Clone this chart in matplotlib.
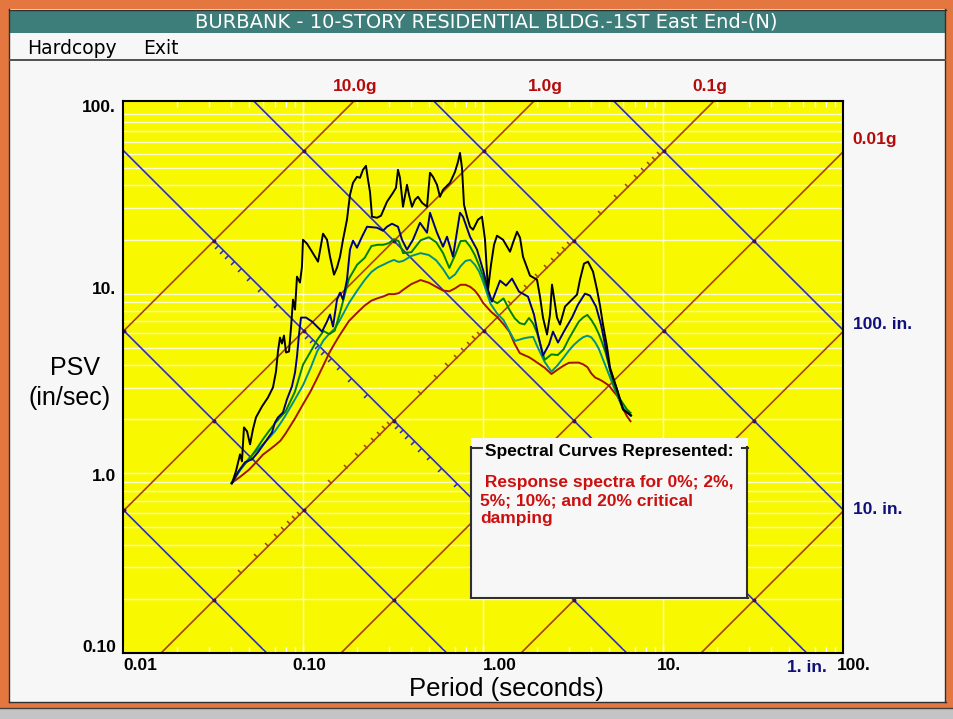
import numpy as np
import matplotlib
matplotlib.use("Agg")
import matplotlib.pyplot as plt
from matplotlib.patches import Rectangle
from matplotlib.lines import Line2D
from matplotlib.path import Path

# ---------------------------------------------------------------- data
G_IN = 386.1  # gravity, in/s^2

# 5%, 10% and 20% damping share one period grid (seconds)
period = [0.04, 0.045, 0.05, 0.055, 0.06, 0.065, 0.07, 0.075, 0.08, 0.09,
          0.10, 0.11, 0.12, 0.13, 0.14, 0.15, 0.16, 0.18, 0.20, 0.22,
          0.24, 0.26, 0.28, 0.30, 0.32, 0.34, 0.36, 0.40, 0.45, 0.50,
          0.55, 0.60, 0.65, 0.70, 0.75, 0.80, 0.85, 0.90, 0.95, 1.0,
          1.1, 1.2, 1.3, 1.4, 1.5, 1.6, 1.7, 1.8, 1.9, 2.0,
          2.2, 2.4, 2.6, 2.8, 3.0, 3.2, 3.4, 3.6, 3.8, 4.0,
          4.2, 4.4, 4.6, 4.8, 5.0, 5.3, 5.6, 6.0, 6.3, 6.6]

psv_20 = [0.88, 0.96, 1.045, 1.154, 1.272, 1.351, 1.432, 1.52, 1.664, 2.01,
          2.42, 2.85, 3.39, 4.00, 4.68, 5.28, 5.88, 7.04, 7.83, 8.58,
          9.14, 9.43, 9.65, 9.94, 9.93, 10.05, 10.5, 11.3, 11.9, 11.5,
          10.9, 10.4, 10.3, 10.7, 11.2, 11.2, 10.9, 10.4, 9.7, 8.89,
          7.99, 7.40, 6.76, 6.15, 5.25, 4.67, 4.54, 4.43, 4.28, 4.13,
          3.87, 3.57, 3.78, 3.97, 4.12, 4.13, 4.13, 4.04, 3.90, 3.59,
          3.41, 3.34, 3.26, 3.17, 3.08, 2.86, 2.68, 2.29, 2.08, 1.95]

psv_10 = [0.88, 1.047, 1.21, 1.33, 1.45, 1.58, 1.72, 1.90, 2.10, 2.57,
          3.09, 3.84, 4.78, 5.50, 5.98, 6.38, 7.10, 8.86, 10.4, 11.9,
          13.2, 14.0, 14.5, 15.0, 15.4, 15.0, 15.2, 16.2, 16.8, 16.4,
          15.3, 13.7, 12.1, 12.8, 14.2, 15.2, 15.4, 14.5, 13.3, 11.7,
          8.8, 7.73, 7.13, 6.19, 5.45, 5.55, 5.65, 5.71, 5.74, 5.10,
          4.17, 3.68, 4.00, 4.40, 4.82, 5.19, 5.48, 5.72, 5.83, 5.71,
          5.36, 4.93, 4.40, 3.95, 3.56, 3.06, 2.67, 2.32, 2.18, 2.09]

psv_5 = [0.88, 1.06, 1.19, 1.36, 1.55, 1.73, 1.90, 2.06, 2.21, 2.83,
         4.02, 4.74, 5.53, 6.19, 5.95, 6.22, 7.74, 12.1, 14.5, 15.8,
         18.4, 18.7, 18.7, 19.1, 20.1, 19.6, 16.8, 17.0, 19.8, 20.6,
         19.3, 16.8, 13.9, 16.4, 19.6, 19.7, 18.2, 16.4, 14.4, 12.5,
         9.30, 8.84, 9.4, 8.16, 7.29, 6.85, 6.74, 7.32, 6.81, 6.03,
         4.28, 4.59, 4.55, 4.89, 5.61, 6.28, 6.97, 7.37, 7.61, 7.13,
         6.58, 5.96, 5.31, 4.69, 4.01, 3.16, 2.71, 2.44, 2.27, 2.17]

# 2% damping
period_2 = [0.0403, 0.0435, 0.0476, 0.0521, 0.0562, 0.0615, 0.0673, 0.0699, 0.0726, 0.0774,
            0.0814, 0.0868, 0.0903, 0.0926, 0.0950, 0.0975, 0.1039, 0.1122, 0.1212, 0.1276,
            0.1359, 0.1413, 0.1468, 0.1545, 0.1606, 0.1668, 0.1755, 0.1824, 0.1896, 0.1995,
            0.2127, 0.2268, 0.2577, 0.2783, 0.2928, 0.3122, 0.3371, 0.3548, 0.3782, 0.4084,
            0.4467, 0.4885, 0.5076, 0.5551, 0.5995, 0.6310, 0.6813, 0.7451, 0.7743, 0.8468,
            0.9261, 1.0, 1.066, 1.122, 1.243, 1.343, 1.449, 1.585, 1.778, 1.920,
            2.021, 2.154, 2.327, 2.448, 2.610, 2.855, 3.122, 3.371, 3.687, 3.930,
            4.244, 4.524, 4.762, 5.076, 5.551, 5.995, 6.641]
psv_2 = [0.880, 1.013, 1.152, 1.196, 1.309, 1.487, 1.690, 1.920, 2.047, 2.182,
         2.577, 3.043, 3.640, 4.467, 5.920, 7.357, 7.357, 6.990, 6.474, 6.146,
         6.990, 7.645, 6.557, 9.261, 10.13, 9.261, 11.96, 17.56, 19.70, 18.01,
         20.73, 23.56, 23.27, 22.38, 23.56, 24.48, 23.56, 19.95, 17.56, 19.95,
         24.80, 21.82, 28.19, 21.82, 18.24, 20.73, 16.06, 28.19, 26.78, 20.73,
         17.56, 13.59, 10.53, 9.027, 11.81, 11.08, 12.12, 10.26, 9.623, 7.645,
         5.920, 4.524, 5.209, 6.146, 5.343, 6.310, 7.357, 8.689, 10.0, 9.745,
         8.468, 6.727, 5.209, 3.783, 2.929, 2.268, 2.100]

# 0% damping
period_0 = [0.0403, 0.0424, 0.0447, 0.0458, 0.0470, 0.0489, 0.0508, 0.0527, 0.0548, 0.0592,
            0.0639, 0.0681, 0.0708, 0.0726, 0.0745, 0.0764, 0.0784, 0.0805, 0.0836, 0.0858,
            0.0880, 0.0903, 0.0926, 0.0962, 0.0987, 0.1000, 0.1052, 0.1122, 0.1212, 0.1292,
            0.1360, 0.1413, 0.1487, 0.1545, 0.1606, 0.1668, 0.1755, 0.1824, 0.1896, 0.1995,
            0.2073, 0.2154, 0.2238, 0.2297, 0.2356, 0.2418, 0.2577, 0.2712, 0.2928, 0.3162,
            0.3286, 0.3371, 0.3458, 0.3594, 0.3782, 0.3880, 0.4032, 0.4190, 0.4354, 0.4583,
            0.4885, 0.5076, 0.5275, 0.5551, 0.5769, 0.5995, 0.6556, 0.6990, 0.7263, 0.7451,
            0.7644, 0.7843, 0.8149, 0.8468, 0.8799, 0.9380, 0.9873, 1.026, 1.066, 1.108,
            1.152, 1.196, 1.292, 1.413, 1.468, 1.545, 1.606, 1.668, 1.824, 1.995,
            2.073, 2.154, 2.268, 2.356, 2.418, 2.480, 2.577, 2.678, 2.855, 3.043,
            3.329, 3.458, 3.640, 3.831, 4.084, 4.299, 4.467, 4.642, 4.885, 5.076,
            5.551, 5.995, 6.641]
psv_0 = [0.880, 1.026, 1.275, 1.166, 1.801, 1.711, 1.449, 1.755, 2.047, 2.356,
         2.643, 3.004, 3.687, 4.762, 5.696, 5.275, 5.841, 4.702, 4.762, 6.474,
         9.261, 8.150, 12.43, 11.52, 14.13, 19.95, 18.97, 17.11, 15.06, 21.54,
         19.95, 16.06, 12.75, 13.95, 16.06, 19.95, 25.78, 35.48, 41.37, 44.67,
         44.10, 48.86, 51.41, 42.99, 36.81, 26.78, 26.44, 27.13, 32.45, 36.40,
         38.80, 48.86, 44.10, 30.43, 40.33, 35.48, 30.43, 33.29, 34.58, 32.04,
         30.43, 47.04, 44.67, 40.33, 34.58, 37.83, 41.37, 47.62, 54.12, 60.72,
         50.12, 31.23, 26.78, 23.56, 22.68, 25.78, 26.78, 19.95, 10.53, 14.49,
         18.72, 21.00, 19.95, 17.11, 19.20, 22.10, 20.47, 16.06, 12.59, 11.96,
         9.623, 7.357, 5.920, 7.645, 11.22, 9.501, 7.357, 6.727, 8.468, 9.027,
         9.874, 11.96, 14.68, 15.06, 13.26, 10.53, 8.578, 6.727, 5.076, 3.880,
         2.929, 2.268, 2.100]

# tripartite grid
accel_g = [10.0, 1.0, 0.1, 0.01, 0.001, 0.0001]
disp_in = [0.001, 0.01, 0.1, 1.0, 10.0, 100.0]
accel_labels = ['10.0g', '1.0g', '0.1g', '0.01g']
disp_labels = ['100. in.', '10. in.', '1. in.']

x_ticks = [0.01, 0.1, 1.0, 10.0, 100.0]
x_ticklabels = ['0.01', '0.10', '1.00', '10.', '100.']
y_ticks = [100.0, 10.0, 1.0, 0.1]
y_ticklabels = ['100.', '10.', '1.0', '0.10']

# ---------------------------------------------------------------- layout
W, H = 954, 719
PT = 0.72  # points per pixel at 100 dpi


def fx(x):
    return x / W


def fy(y):
    return 1 - y / H


def box(fig, x0, y0, x1, y1, color, z=1):
    fig.add_artist(Rectangle((fx(x0), fy(y1)), (x1 - x0) / W, (y1 - y0) / H,
                             transform=fig.transFigure, facecolor=color,
                             edgecolor='none', zorder=z))


def hline(fig, x0, x1, y, color, lw=1.0, z=3):
    fig.add_artist(Line2D([fx(x0), fx(x1)], [fy(y), fy(y)], transform=fig.transFigure,
                          color=color, lw=lw, zorder=z))


def vline(fig, x, y0, y1, color, lw=1.0, z=3):
    fig.add_artist(Line2D([fx(x), fx(x)], [fy(y0), fy(y1)], transform=fig.transFigure,
                          color=color, lw=lw, zorder=z))


SANS = ['Liberation Sans', 'DejaVu Sans']
NARROW = ['Liberation Sans Narrow', 'DejaVu Sans']

ORANGE = '#E4773F'
BROWN = '#A8400A'
BLUE = '#2A2AD2'
ACC_RED = '#B40A0A'
DISP_NAVY = '#10107A'

fig = plt.figure(figsize=(W / 100, H / 100), dpi=100)
fig.patch.set_facecolor('#F7F7F7')

# window frame
box(fig, 0, 0, W, 9, ORANGE)
box(fig, 0, 0, 9, 706, ORANGE)
box(fig, 946, 0, W, 706, ORANGE)
box(fig, 0, 702, W, 708, ORANGE)
box(fig, 0, 708, W, H, '#C4C4C4')
hline(fig, 9, 946, 9.5, '#303030', 1.0)
vline(fig, 9.5, 9, 702, '#303030', 1.0)
vline(fig, 945.5, 9, 702, '#303030', 1.0)
hline(fig, 9, 946, 702, '#303030', 1.0)
hline(fig, 0, W, 708, '#404040', 1.0)

# title bar and menu
box(fig, 10, 10, 945, 33, '#3E7E7A', z=2)
fig.text(fx(486), fy(22), 'BURBANK - 10-STORY RESIDENTIAL BLDG.-1ST East End-(N)',
         color='white', fontsize=14, family=NARROW, ha='center', va='center', zorder=4)
fig.text(fx(27), fy(48), 'Hardcopy', color='black', fontsize=13.5, family=NARROW,
         ha='left', va='center', zorder=4)
fig.text(fx(143), fy(48), 'Exit', color='black', fontsize=13.5, family=NARROW,
         ha='left', va='center', zorder=4)
hline(fig, 10, 945, 59.5, '#505050', 1.4)

# ---------------------------------------------------------------- plot
ax = fig.add_axes([fx(123), fy(653), 720 / W, 552 / H])
ax.set_xscale('log')
ax.set_yscale('log')
ax.set_facecolor('#F8F800')

XMIN, XMAX = 0.01, 100.0
YMIN, YMAX = 0.1, 118.0

GRID = '#FFFFD2'
for dec in [0.1, 1.0, 10.0, 100.0]:
    for k in range(1, 10):
        v = dec * k
        if YMIN < v < YMAX:
            ax.axhline(v, color=GRID, lw=1.0, zorder=1)
for v in [0.1, 1.0, 10.0]:
    ax.axvline(v, color=GRID, lw=1.0, zorder=1)

# constant acceleration and displacement lines
t_line = np.logspace(-2, 2, 300)
for a in accel_g:
    ax.plot(t_line, a * G_IN * t_line / (2 * np.pi), color=BROWN, lw=1.2, zorder=2)
for d in disp_in:
    ax.plot(t_line, 2 * np.pi * d / t_line, color=BLUE, lw=1.2, zorder=2)

# crossings of the two families
cross_t, cross_v = [], []
for a in accel_g:
    for d in disp_in:
        t = 2 * np.pi * np.sqrt(d / (a * G_IN))
        v = np.sqrt(a * G_IN * d)
        if XMIN < t < XMAX and YMIN < v < YMAX:
            cross_t.append(t)
            cross_v.append(v)
ax.plot(cross_t, cross_v, 'o', color='#3A0A60', ms=2.8, mew=0, zorder=3)

# scale ticks along the 0.1g line (displacement) and 0.1 in. line (acceleration)
sub = [k * 10.0 ** n for n in range(-3, 2) for k in range(2, 10)]
a_ref = 0.1
tk_t = [2 * np.pi * np.sqrt(d / (a_ref * G_IN)) for d in sub]
tk_v = [a_ref * G_IN * t / (2 * np.pi) for t in tk_t]
ax.plot(tk_t, tk_v, linestyle='none', marker=Path([(0, 0), (-1, 1)]), ms=5,
        mew=1.1, color=BROWN, zorder=3)

d_ref = 0.1
sub_a = [k * 10.0 ** n for n in range(-2, 1) for k in range(2, 10)]
tk_t = [2 * np.pi * np.sqrt(d_ref / (a * G_IN)) for a in sub_a]
tk_v = [2 * np.pi * d_ref / t for t in tk_t]
ax.plot(tk_t, tk_v, linestyle='none', marker=Path([(0, 0), (-1, -1)]), ms=5,
        mew=1.1, color=BLUE, zorder=3)

# response spectra
ax.plot(period, psv_20, color='#A01400', lw=1.4, zorder=4)
ax.plot(period, psv_10, color='#00908C', lw=1.4, zorder=5)
ax.plot(period, psv_5, color='#008000', lw=1.4, zorder=6)
ax.plot(period_2, psv_2, color='#000080', lw=1.4, zorder=7)
ax.plot(period_0, psv_0, color='#000000', lw=1.4, zorder=8)

ax.set_xlim(XMIN, XMAX)
ax.set_ylim(YMIN, YMAX)

for s in ax.spines.values():
    s.set_color('black')
    s.set_linewidth(1.5)
    s.set_zorder(10)
ax.tick_params(which='both', direction='in', colors='white', top=True, bottom=True,
               left=False, right=False, labelbottom=False, labelleft=False)
ax.tick_params(which='major', length=6, width=1)
ax.tick_params(which='minor', length=4, width=1)
ax.yaxis.set_tick_params(which='both', length=0)

TICK = dict(family=SANS, weight='bold', fontsize=12.5, color='black')
x_dx = [0, -11, 0, -6, -6]
for v, s, dx in zip(x_ticks, x_ticklabels, x_dx):
    ax.annotate(s, xy=(v, 0), xycoords=('data', 'axes fraction'),
                xytext=(dx * PT, -5 * PT), textcoords='offset points',
                ha='left', va='top', **TICK)
y_dy = [6, 4, -3, 5]
for v, s, dy in zip(y_ticks, y_ticklabels, y_dy):
    ax.annotate(s, xy=(0, v), xycoords=('axes fraction', 'data'),
                xytext=(-7 * PT, dy * PT), textcoords='offset points',
                ha='right', va='center', **TICK)

# acceleration labels at the line ends
ALAB = dict(family=SANS, weight='bold', fontsize=12.5, color=ACC_RED)
acc_dx = [1, 11, -4]
for a, s, dx in zip(accel_g[:3], accel_labels[:3], acc_dx):
    t_top = 2 * np.pi * YMAX / (a * G_IN)
    ax.annotate(s, xy=(t_top, 1), xycoords=('data', 'axes fraction'),
                xytext=(dx * PT, 14 * PT), textcoords='offset points',
                ha='center', va='center', **ALAB)
a = accel_g[3]
ax.annotate(accel_labels[3], xy=(1, a * G_IN * XMAX / (2 * np.pi)),
            xycoords=('axes fraction', 'data'), xytext=(9 * PT, 12 * PT),
            textcoords='offset points', ha='left', va='center', **ALAB)

# displacement labels
DLAB = dict(family=SANS, weight='bold', fontsize=12.5, color=DISP_NAVY)
for d, s, dy in zip(disp_in[-1:-3:-1], disp_labels[:2], [5, 0]):
    ax.annotate(s, xy=(1, 2 * np.pi * d / XMAX), xycoords=('axes fraction', 'data'),
                xytext=(10 * PT, dy * PT), textcoords='offset points',
                ha='left', va='center', **DLAB)
d = disp_in[3]
ax.annotate(disp_labels[2], xy=(2 * np.pi * d / YMIN, 0), xycoords=('data', 'axes fraction'),
            xytext=(0, -14 * PT), textcoords='offset points',
            ha='center', va='center', **DLAB)

# axis titles
fig.text(fx(75), fy(368), 'PSV', fontsize=18, family=SANS, ha='center', va='center')
fig.text(fx(70), fy(398), '(in/sec)', fontsize=18, family=SANS, ha='center', va='center')
fig.text(fx(506), fy(689), 'Period (seconds)', fontsize=18.5, family=SANS,
         ha='center', va='center')

# legend panel
box(fig, 471, 438, 748, 598, '#F7F7F7', z=20)
EDGE = '#303030'
vline(fig, 471.5, 447, 598, EDGE, 1.5, z=21)
vline(fig, 747.5, 447, 598, EDGE, 1.5, z=21)
hline(fig, 471, 748, 597.5, EDGE, 1.5, z=21)
hline(fig, 471, 482, 447.5, EDGE, 1.5, z=21)
hline(fig, 742, 748, 447.5, EDGE, 1.5, z=21)
fig.text(fx(485), fy(452), 'Spectral Curves Represented:', fontsize=12.5, family=SANS,
         weight='bold', color='black', ha='left', va='center', zorder=22)
spec_lines = [' Response spectra for 0%; 2%,', '5%; 10%; and 20% critical', 'damping']
for i, s in enumerate(spec_lines):
    fig.text(fx(480), fy(482 + 18.5 * i), s, fontsize=12.5, family=SANS, weight='bold',
             color='#CC1010', ha='left', va='center', zorder=22)

fig.savefig('out.png', dpi=100, facecolor=fig.get_facecolor())
